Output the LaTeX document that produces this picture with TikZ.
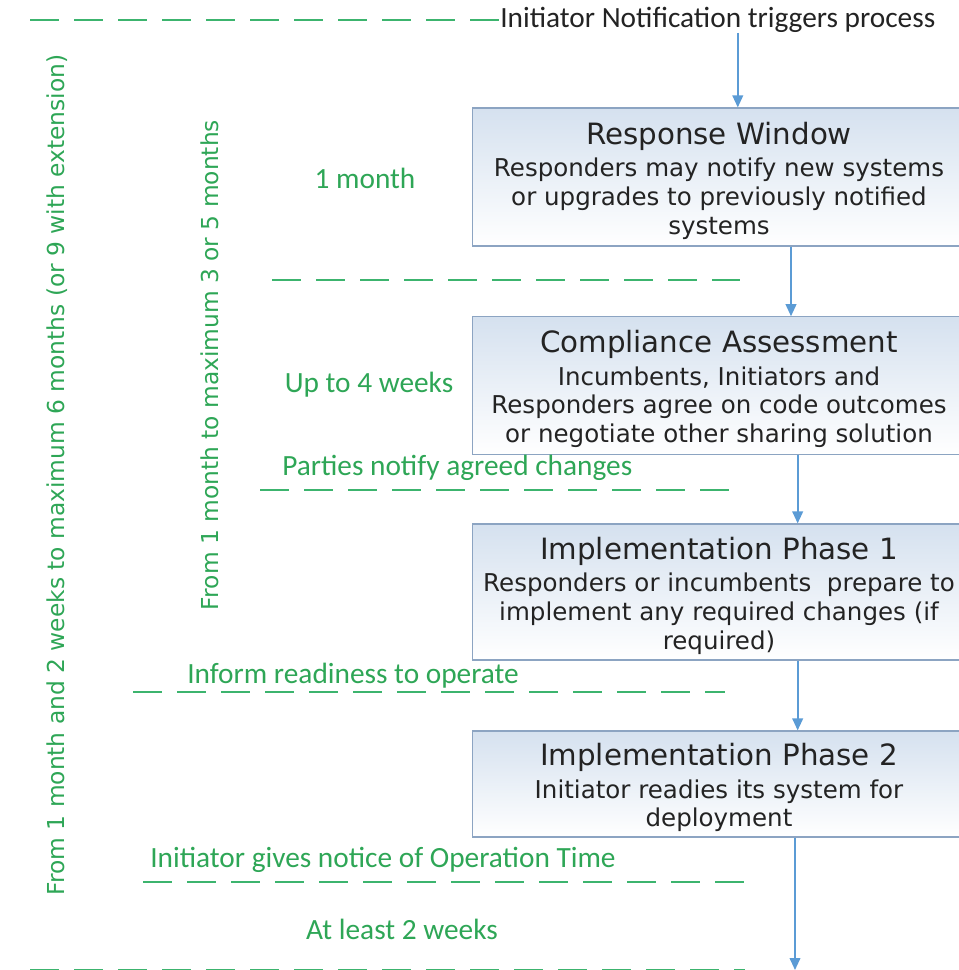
\documentclass[tikz,border=0pt]{standalone}
\usepackage{fontspec}
\setmainfont{Carlito}
\newfontfamily\verdfont{DejaVu Sans}
\usetikzlibrary{arrows.meta}

\definecolor{flowblue}{RGB}{91,155,213}
\definecolor{boxline}{RGB}{140,164,194}
\definecolor{boxtop}{RGB}{213,225,239}
\definecolor{gapgreen}{RGB}{60,180,110}
\definecolor{labgreen}{RGB}{46,166,86}
\definecolor{notegray}{RGB}{35,35,35}

\tikzset{
  phase/.style={draw=boxline, line width=0.9pt, top color=boxtop, bottom color=white,
    minimum width=370pt, align=center, inner sep=0pt, text=notegray,
    font=\verdfont\fontsize{18.4}{21.5}\selectfont},
  flow/.style={draw=flowblue, line width=1.3pt, -{Triangle[length=9pt,width=8pt]}},
  gapline/.style={draw=gapgreen, line width=1.5pt, dash pattern=on 21.5pt off 11.5pt},
  period/.style={text=labgreen, font=\fontsize{22}{26}\selectfont, inner sep=0pt},
  span/.style={text=labgreen, font=\verdfont\fontsize{17.5}{20}\selectfont, rotate=90, inner sep=0pt},
}
\newcommand{\phasetitle}[1]{{\fontsize{22}{26}\selectfont\rule{0pt}{22pt}#1}\\[3pt]}

\begin{document}
\begin{tikzpicture}[x=0.75pt, y=-0.75pt]
  \useasboundingbox (0,0) rectangle (958,970);

  % trigger
  \node[anchor=west, inner sep=0pt, text=notegray, font=\fontsize{22}{26}\selectfont] (trigger) at (500,20) {Initiator Notification triggers process};
  \draw[gapline] (30,20) -- (trigger.west);

  % phases
  \node[phase, minimum height=103.5pt] (rw) at (719,177) {\phasetitle{Response Window}Responders may notify new systems\\or upgrades to previously notified\\systems};
  \node[phase, minimum height=103pt] (ca) at (719,385.5) {\phasetitle{Compliance Assessment}Incumbents, Initiators and\\Responders agree on code outcomes\\or negotiate other sharing solution};
  \node[phase, minimum height=102pt] (ip1) at (719,592) {\phasetitle{Implementation Phase 1}Responders or incumbents\ \ prepare to\\implement any required changes (if\\required)};
  \node[phase, minimum height=79.5pt] (ip2) at (719,784) {\phasetitle{Implementation Phase 2}Initiator readies its system for\\deployment};

  % flow arrows
  \coordinate (t1) at ([xshift=15pt]trigger.south);
  \coordinate (end) at (795,970);
  \draw[flow] (t1) -- (t1 |- rw.north);
  \draw[flow] ([xshift=54pt]rw.south) -- ([xshift=54pt]ca.north);
  \draw[flow] ([xshift=59pt]ca.south) -- ([xshift=59pt]ip1.north);
  \draw[flow] ([xshift=59pt]ip1.south) -- ([xshift=59pt]ip2.north);
  \draw[flow] (ip2.south -| end) -- (end);

  % gaps between stages
  \draw[gapline] (272,280) -- (740,280);
  \draw[gapline] (260,490) -- (730,490);
  \draw[gapline] (133,692) -- (725,692);
  \draw[gapline] (143,882) -- (745,882);
  \draw[gapline] (30,970) -- (745,970);

  % durations and notices
  \node[period] (p1) at (365,178) {1 month};
  \node[period] (p2) at (369,385) {Up to 4 weeks};
  \node[period] (p3) at (402,929) {At least 2 weeks};
  \node[period, anchor=west] (n1) at (282,468) {Parties notify agreed changes};
  \node[period, anchor=west] (n2) at (187,676) {Inform readiness to operate};
  \node[period, anchor=west] (n3) at (150,860) {Initiator gives notice of Operation Time};

  % overall spans
  \node[span] (outer) at (57,475) {From 1 month and 2 weeks to maximum 6 months (or 9 with extension)};
  \node[span] (inner) at (210,365) {From 1 month to maximum 3 or 5 months};
\end{tikzpicture}
\end{document}
